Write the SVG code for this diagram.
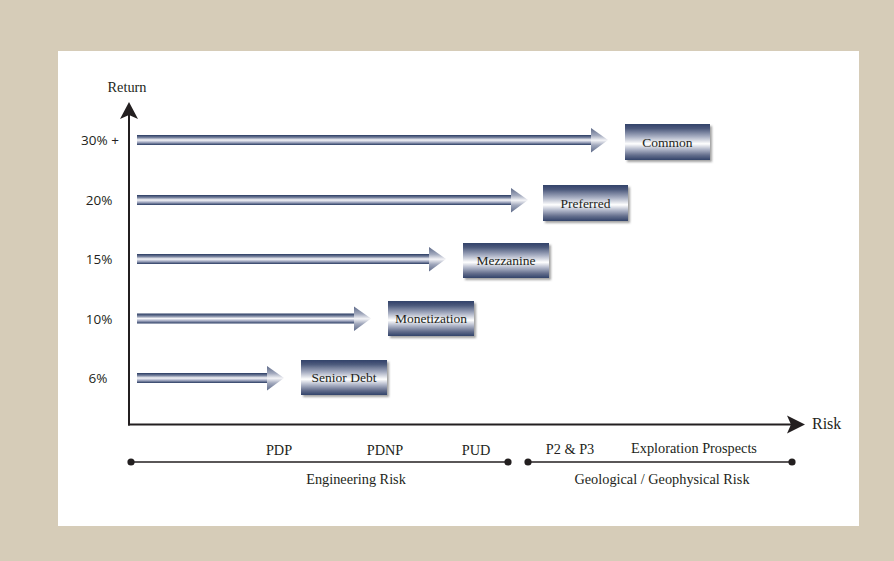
<svg xmlns="http://www.w3.org/2000/svg" width="894" height="561" viewBox="0 0 894 561">
<defs>
<linearGradient id="boxGrad" x1="0" y1="0" x2="0" y2="1">
<stop offset="0" stop-color="#33436a"/>
<stop offset="0.12" stop-color="#4a577a"/>
<stop offset="0.35" stop-color="#a7aec2"/>
<stop offset="0.55" stop-color="#ffffff"/>
<stop offset="0.7" stop-color="#b3b9cb"/>
<stop offset="0.86" stop-color="#67718f"/>
<stop offset="1" stop-color="#33436a"/>
</linearGradient>
<linearGradient id="shaftGrad" x1="0" y1="0" x2="0" y2="1">
<stop offset="0" stop-color="#283a61"/>
<stop offset="0.25" stop-color="#76819d"/>
<stop offset="0.5" stop-color="#f7f7fa"/>
<stop offset="0.72" stop-color="#a9afc6"/>
<stop offset="1" stop-color="#2a3c63"/>
</linearGradient>
<linearGradient id="headGrad" x1="0" y1="0" x2="0" y2="1">
<stop offset="0" stop-color="#5d6988"/>
<stop offset="0.3" stop-color="#a2a9bd"/>
<stop offset="0.5" stop-color="#f4f4f7"/>
<stop offset="0.7" stop-color="#a2a9bd"/>
<stop offset="1" stop-color="#5d6988"/>
</linearGradient>
<filter id="shadow" x="-10%" y="-20%" width="125%" height="150%">
<feDropShadow dx="2" dy="2" stdDeviation="1" flood-color="#7a7a7a" flood-opacity="0.7"/>
</filter>
<style>
.serif{font-family:"Liberation Serif","Times New Roman",serif;fill:#231f20;}
.sans{font-family:"Open Sans","Liberation Sans",sans-serif;fill:#231f20;font-size:13.5px;text-anchor:middle;}
.box{fill:url(#boxGrad);filter:url(#shadow);}
.boxtxt{font-size:13.5px;text-anchor:middle;}
.shaft{fill:url(#shaftGrad);}
.head{fill:url(#headGrad);}
.axis{stroke:#231f20;stroke-width:2;fill:none;}
.axhead{fill:#231f20;}
.tl{stroke:#231f20;stroke-width:1.3;fill:none;}
.dot{fill:#231f20;}
.lbl{font-size:14.3px;text-anchor:middle;}
</style>
</defs>
<rect x="0" y="0" width="894" height="561" fill="#d6ccb8"/>
<rect x="58" y="51" width="801" height="475" fill="#ffffff"/>

<g id="axes">
<line class="axis" x1="129" y1="425.5" x2="129" y2="112"/>
<polygon class="axhead" points="129,102 120,119 129,115 138,119"/>
<line class="axis" x1="128" y1="424.5" x2="795" y2="424.5"/>
<polygon class="axhead" points="805,424.5 787,415.5 791,424.5 787,433.5"/>
<text class="serif" x="127" y="92" font-size="14.3" text-anchor="middle">Return</text>
<text class="serif" x="812" y="429" font-size="16">Risk</text>
</g>

<g id="y-labels">
<text class="sans" x="100" y="145">30% +</text>
<text class="sans" x="99" y="205">20%</text>
<text class="sans" x="99" y="264">15%</text>
<text class="sans" x="99" y="323.5">10%</text>
<text class="sans" x="98" y="383">6%</text>
</g>

<g id="connectors">
<rect class="shaft" x="137" y="135" width="454" height="10"/>
<polygon class="head" points="591,128 608,140 591,152.5"/>
<rect class="shaft" x="137" y="195" width="374" height="10"/>
<polygon class="head" points="511,188 528,200 511,212.5"/>
<rect class="shaft" x="137" y="254" width="292" height="10"/>
<polygon class="head" points="429,247 446,259 429,271.5"/>
<rect class="shaft" x="137" y="313.5" width="217" height="10"/>
<polygon class="head" points="354,306.5 371,318.5 354,331"/>
<rect class="shaft" x="137" y="373" width="130" height="10"/>
<polygon class="head" points="267,366 284,378 267,390.5"/>
</g>

<g id="node-common">
<rect class="box" x="625" y="124" width="85" height="36"/>
<text class="serif boxtxt" x="667.5" y="146.5">Common</text>
</g>
<g id="node-preferred">
<rect class="box" x="543" y="185" width="85" height="36"/>
<text class="serif boxtxt" x="585.5" y="207.5">Preferred</text>
</g>
<g id="node-mezzanine">
<rect class="box" x="463" y="243" width="86" height="35"/>
<text class="serif boxtxt" x="506" y="265">Mezzanine</text>
</g>
<g id="node-monetization">
<rect class="box" x="388" y="301" width="86" height="35"/>
<text class="serif boxtxt" x="431" y="323">Monetization</text>
</g>
<g id="node-senior-debt">
<rect class="box" x="301" y="360" width="86" height="35"/>
<text class="serif boxtxt" x="344" y="382">Senior Debt</text>
</g>

<g id="timeline">
<line class="tl" x1="131" y1="462" x2="508" y2="462"/>
<line class="tl" x1="528" y1="462" x2="792" y2="462"/>
<circle class="dot" cx="131" cy="462" r="3.6"/>
<circle class="dot" cx="508" cy="462" r="3.6"/>
<circle class="dot" cx="528" cy="462" r="3.6"/>
<circle class="dot" cx="792" cy="462" r="3.6"/>
<text class="serif lbl" x="279" y="455">PDP</text>
<text class="serif lbl" x="385" y="455">PDNP</text>
<text class="serif lbl" x="476" y="455">PUD</text>
<text class="serif lbl" x="570" y="454">P2 &amp; P3</text>
<text class="serif lbl" x="694" y="453">Exploration Prospects</text>
<text class="serif lbl" x="356" y="484">Engineering Risk</text>
<text class="serif lbl" x="662" y="484">Geological / Geophysical Risk</text>
</g>
</svg>
